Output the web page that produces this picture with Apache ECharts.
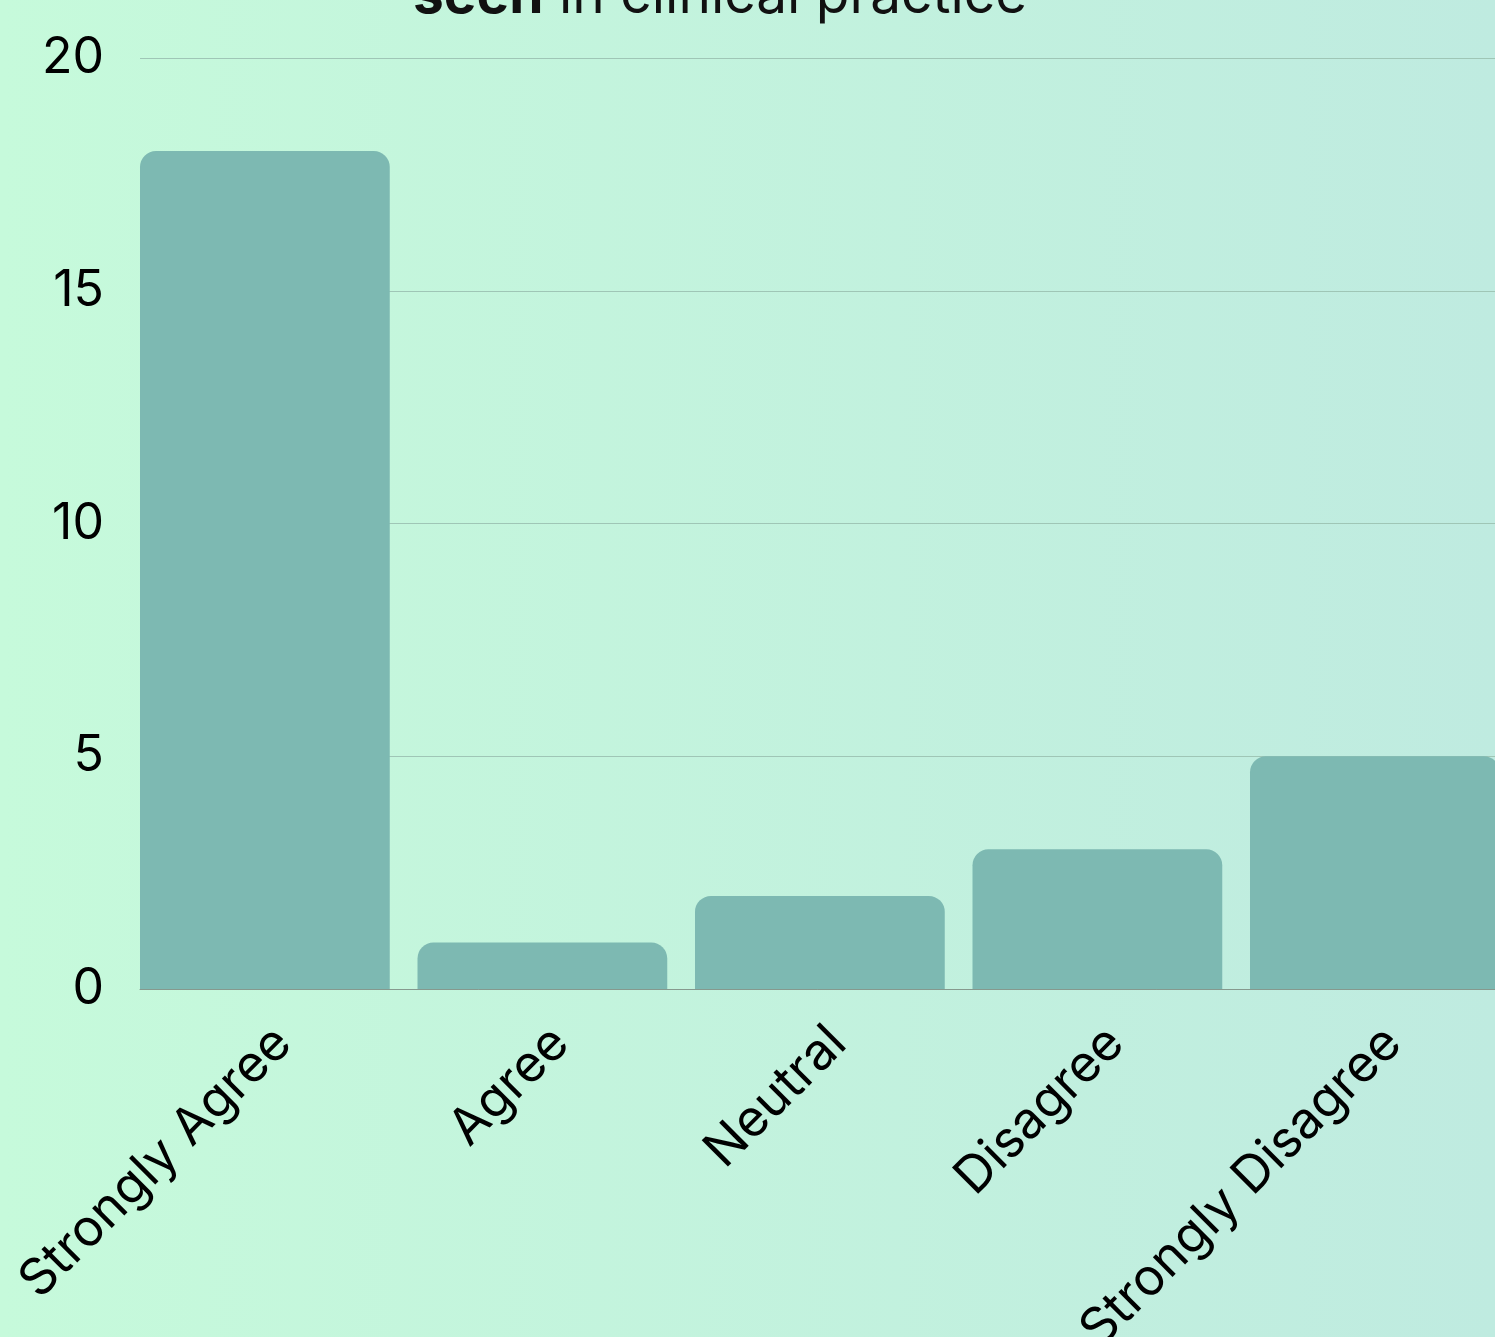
<!DOCTYPE html>
<html>
<head>
<meta charset="utf-8">
<script src="https://cdn.jsdelivr.net/npm/echarts@6/dist/echarts.min.js"></script>
<style>
html,body{margin:0;padding:0;}
#chart{width:1495px;height:1337px;}
</style>
</head>
<body>
<div id="chart"></div>
<script>
const categories = ['Strongly Agree', 'Agree', 'Neutral', 'Disagree', 'Strongly Disagree'];
const counts = [18, 1, 2, 3, 5];
const yTicks = [0, 5, 10, 15, 20];

const chart = echarts.init(document.getElementById('chart'));
const FONT = 'Inter';
chart.setOption({
  backgroundColor: {
    type: 'linear', x: 0, y: 0, x2: 1, y2: 0,
    colorStops: [{offset: 0, color: '#c6fadb'}, {offset: 1, color: '#bfebe0'}]
  },
  title: {
    text: '{b|seen} in clinical practice',
    left: 408,
    top: -36,
    textStyle: {
      fontFamily: FONT, fontSize: 55, fontWeight: 'normal', color: '#111',
      rich: { b: { fontFamily: FONT, fontSize: 55, fontWeight: 'bold', color: '#111' } }
    }
  },
  grid: [
    {left: 140, right: -5, top: 58, bottom: 348, outerBoundsMode: 'none', containLabel: false},
    {left: 126.125, width: 1387.5, top: 58, bottom: 348, outerBoundsMode: 'none', containLabel: false}
  ],
  xAxis: [
    {gridIndex: 0, type: 'value', min: 0, max: 1,
     axisLine: {show: true, lineStyle: {color: '#86998e', width: 1}},
     axisTick: {show: false}, axisLabel: {show: false}, splitLine: {show: false}},
    {gridIndex: 1, type: 'category', data: categories,
     axisLine: {show: false}, axisTick: {show: false},
     axisLabel: {rotate: 45, interval: 0, fontFamily: FONT, fontSize: 51, color: '#000', margin: 28,
                 verticalAlign: 'top'}}
  ],
  yAxis: [
    {gridIndex: 0, type: 'value', min: yTicks[0], max: yTicks[yTicks.length - 1], interval: 5,
     axisLine: {show: false}, axisTick: {show: false},
     axisLabel: {fontFamily: FONT, fontSize: 50, color: '#000', margin: 36, padding: [13, 0, 0, 0]},
     splitLine: {show: true, lineStyle: {color: '#9fc6b6', width: 1}}},
    {gridIndex: 1, type: 'value', min: 0, max: 20, show: false, splitLine: {show: false}}
  ],
  series: [{
    type: 'bar', xAxisIndex: 1, yAxisIndex: 1,
    data: counts,
    barCategoryGap: '10%',
    itemStyle: {color: '#7db9b2', borderRadius: [16, 16, 0, 0]},
    z: 3
  }]
});
</script>
</body>
</html>
